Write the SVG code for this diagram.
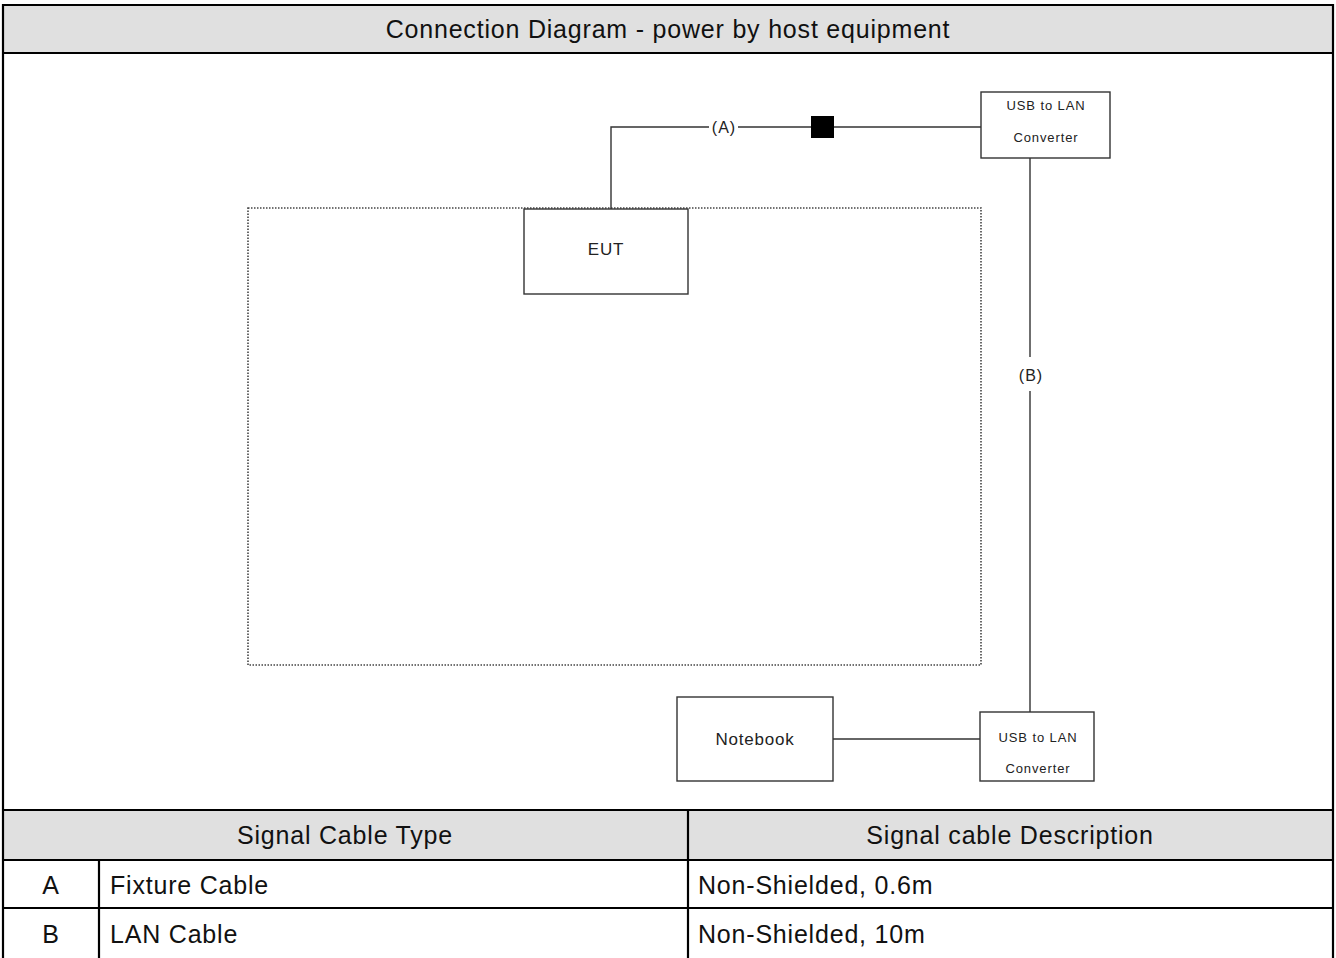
<svg xmlns="http://www.w3.org/2000/svg" width="1336" height="958" viewBox="0 0 1336 958">
<style>
.frame{stroke:#000;stroke-width:2.2;fill:none}
.band{fill:#e0e0e0}
.box{fill:#fff;stroke:#333;stroke-width:1.4}
.wire{stroke:#333;stroke-width:1.4;fill:none}
.big{font-family:"Liberation Sans",Arial,sans-serif;font-size:25px;letter-spacing:0.8px;fill:#111}
.mid{font-family:"Liberation Sans",Arial,sans-serif;font-size:17px;letter-spacing:0.8px;fill:#222}
.sm{font-family:"Liberation Sans",Arial,sans-serif;font-size:13px;letter-spacing:0.9px;fill:#222}
.lbl{font-family:"Liberation Sans",Arial,sans-serif;font-size:16px;letter-spacing:1px;fill:#222}
</style>
<rect x="0" y="0" width="1336" height="958" fill="#fff"/>
<g id="title">
<rect class="band" x="3" y="5" width="1330" height="48"/>
<text class="big" x="668" y="38" text-anchor="middle">Connection Diagram - power by host equipment</text>
</g>
<g id="table">
<rect class="band" x="3" y="810" width="1330" height="50"/>
<text class="big" x="345" y="844" text-anchor="middle">Signal Cable Type</text>
<text class="big" x="1010" y="844" text-anchor="middle">Signal cable Description</text>
<text class="big" x="51" y="894" text-anchor="middle">A</text>
<text class="big" x="110" y="894">Fixture Cable</text>
<text class="big" x="698" y="894">Non-Shielded, 0.6m</text>
<text class="big" x="51" y="943" text-anchor="middle">B</text>
<text class="big" x="110" y="943">LAN Cable</text>
<text class="big" x="698" y="943">Non-Shielded, 10m</text>
<path class="frame" d="M3,958 V5 H1333 V958 M3,53 H1333 M3,810 H1333 M3,860 H1333 M3,908 H1333 M688,810 V958 M99,860 V958"/>
</g>
<g id="table-area">
<rect x="248" y="208" width="733" height="457" fill="none" stroke="#444" stroke-width="1.6" stroke-dasharray="1.5 1.5"/>
</g>
<g id="connectors">
<path class="wire" d="M611,209 V127 H709 M738,127 H981"/>
<rect x="811" y="116" width="23" height="22" fill="#000"/>
<text class="lbl" x="724" y="133" text-anchor="middle">(A)</text>
<path class="wire" d="M1030,158 V357 M1030,391 V712"/>
<text class="lbl" x="1031" y="381" text-anchor="middle">(B)</text>
<path class="wire" d="M833,739 H980"/>
</g>
<g id="eut">
<rect class="box" x="524" y="209" width="164" height="85"/>
<text class="mid" x="606" y="255" text-anchor="middle">EUT</text>
</g>
<g id="usb-top">
<rect class="box" x="981" y="92" width="129" height="66"/>
<text class="sm" x="1046" y="110" text-anchor="middle">USB to LAN</text>
<text class="sm" x="1046" y="142" text-anchor="middle">Converter</text>
</g>
<g id="notebook">
<rect class="box" x="677" y="697" width="156" height="84"/>
<text class="mid" x="755" y="745" text-anchor="middle">Notebook</text>
</g>
<g id="usb-bottom">
<rect class="box" x="980" y="712" width="114" height="69"/>
<text class="sm" x="1038" y="742" text-anchor="middle">USB to LAN</text>
<text class="sm" x="1038" y="773" text-anchor="middle">Converter</text>
</g>
</svg>
